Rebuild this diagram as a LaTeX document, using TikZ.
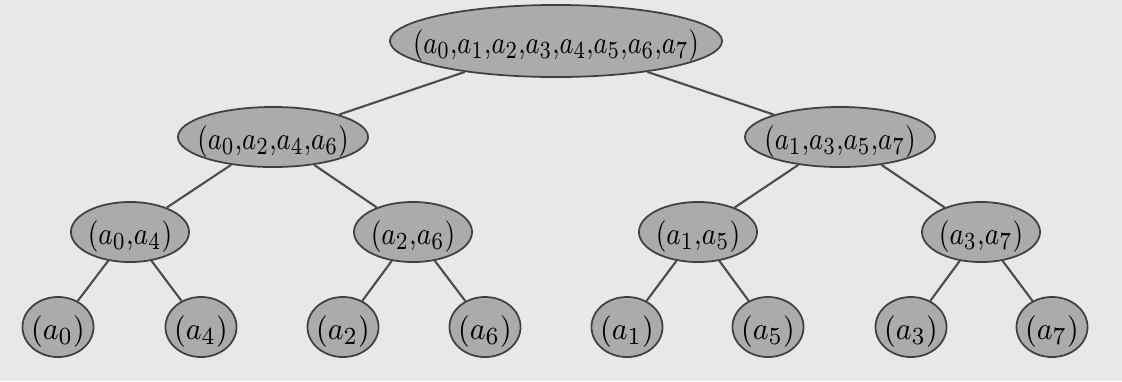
\documentclass[tikz,border=0pt]{standalone}
\usepackage{graphicx}
\usetikzlibrary{shapes.geometric}
\newcommand{\sq}[2][0.82]{\scalebox{#1}[1]{$#2$}}
\begin{document}
\begin{tikzpicture}[x=0.01cm,y=-0.01cm,
  nd/.style={ellipse,draw=black!75,line width=0.5pt,fill=black!33,inner sep=0pt},
  txt/.style={inner sep=0pt,yshift=-1.3pt,font=\fontsize{9.5}{11}\selectfont},
  lv1/.style={nd,minimum width=3.32cm,minimum height=0.72cm},
  lv2/.style={nd,minimum width=1.9cm,minimum height=0.6cm},
  lv3/.style={nd,minimum width=1.18cm,minimum height=0.6cm},
  lv4/.style={nd,minimum width=0.71cm,minimum height=0.6cm},
  edge/.style={draw=black!70,line width=0.6pt}]
\fill[black!9] (0,0) rectangle (1122,381);
\useasboundingbox (0,0) rectangle (1122,381);
\node[lv1] (r) at (556,41) {};
\node[lv2] (l) at (273,137) {};
\node[lv2] (rr) at (840,137) {};
\node[lv3] (ll) at (130,232) {};
\node[lv3] (lr) at (413,232) {};
\node[lv3] (rl) at (698,232) {};
\node[lv3] (rrr) at (981,232) {};
\node[lv4] (x0) at (58,327) {};
\node[lv4] (x4) at (201,327) {};
\node[lv4] (x2) at (343,327) {};
\node[lv4] (x6) at (485,327) {};
\node[lv4] (x1) at (627,327) {};
\node[lv4] (x5) at (768,327) {};
\node[lv4] (x3) at (911,327) {};
\node[lv4] (x7) at (1052,327) {};
\node[txt] (tr) at (r) {\sq[0.81]{(a_0{,}a_1{,}a_2{,}a_3{,}a_4{,}a_5{,}a_6{,}a_7)}};
\node[txt] (tl) at (l) {\sq{(a_0{,}a_2{,}a_4{,}a_6)}};
\node[txt] (trr) at (rr) {\sq{(a_1{,}a_3{,}a_5{,}a_7)}};
\node[txt] (tll) at (ll) {\sq[0.84]{(a_0{,}a_4)}};
\node[txt] (tlr) at (lr) {\sq[0.84]{(a_2{,}a_6)}};
\node[txt] (trl) at (rl) {\sq[0.84]{(a_1{,}a_5)}};
\node[txt] (trrr) at (rrr) {\sq[0.84]{(a_3{,}a_7)}};
\node[txt] (t0) at (x0) {\sq[0.92]{(a_0)}};
\node[txt] (t4) at (x4) {\sq[0.92]{(a_4)}};
\node[txt] (t2) at (x2) {\sq[0.92]{(a_2)}};
\node[txt] (t6) at (x6) {\sq[0.92]{(a_6)}};
\node[txt] (t1) at (x1) {\sq[0.92]{(a_1)}};
\node[txt] (t5) at (x5) {\sq[0.92]{(a_5)}};
\node[txt] (t3) at (x3) {\sq[0.92]{(a_3)}};
\node[txt] (t7) at (x7) {\sq[0.92]{(a_7)}};
\draw[edge] (r) -- (l);
\draw[edge] (r) -- (rr);
\draw[edge] (l) -- (ll);
\draw[edge] (l) -- (lr);
\draw[edge] (rr) -- (rl);
\draw[edge] (rr) -- (rrr);
\draw[edge] (ll) -- (x0);
\draw[edge] (ll) -- (x4);
\draw[edge] (lr) -- (x2);
\draw[edge] (lr) -- (x6);
\draw[edge] (rl) -- (x1);
\draw[edge] (rl) -- (x5);
\draw[edge] (rrr) -- (x3);
\draw[edge] (rrr) -- (x7);
\end{tikzpicture}
\end{document}
